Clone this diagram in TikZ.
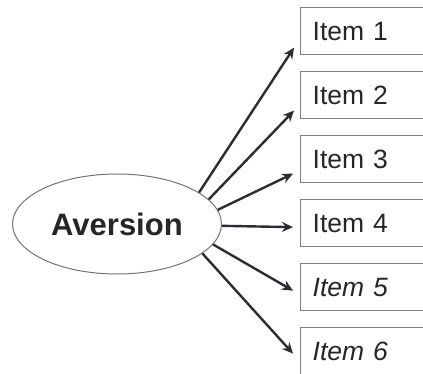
\documentclass[tikz,border=0pt]{standalone}
\usepackage{fontspec}
\setmainfont{Liberation Sans}
\usetikzlibrary{arrows.meta,shapes.geometric}
\definecolor{txt}{HTML}{262626}
\definecolor{boxline}{HTML}{808080}
\definecolor{arr}{HTML}{2C2C32}
\begin{document}
\begin{tikzpicture}[x=1pt,y=-1pt,
  itembox/.style={draw=boxline,line width=1.3pt,anchor=north west,
    minimum width=170pt,minimum height=47pt,inner xsep=12pt,
    text width=146pt,align=left,font=\fontsize{26.5}{30}\selectfont,text=txt},
  latent/.style={ellipse,draw=boxline!90!black,line width=1pt,minimum width=209pt,
    minimum height=100pt,inner sep=0pt,font=\bfseries\fontsize{31}{36}\selectfont,text=txt},
  load/.style={draw=arr,line width=2.4pt,-{Stealth[length=11pt,width=10pt]}}]
\useasboundingbox (0,0) rectangle (423,374);
\clip (0,0) rectangle (423,374);
\node[latent] (av) at (117,224) {\raisebox{-3pt}{Aversion}};
\node[itembox] (i1) at (300,7) {Item 1};
\node[itembox] (i2) at (300,71) {Item 2};
\node[itembox] (i3) at (300,135) {Item 3};
\node[itembox] (i4) at (300,199) {Item 4};
\node[itembox] (i5) at (300,263) {\itshape Item 5};
\node[itembox] (i6) at (300,327) {\itshape Item 6};
\draw[load] (av.21) -- ([shift={(-6,16.5)}]i1.west);
\draw[load] (av.15.7) -- ([shift={(-6,15.5)}]i2.west);
\draw[load] (av.8.7) -- ([shift={(-7,14.5)}]i3.west);
\draw[load] (av.-1.6) -- ([shift={(-7,4)}]i4.west);
\draw[load] (av.-12.3) -- ([shift={(-7,3.5)}]i5.west);
\draw[load] (av.-19.8) -- ([shift={(-7,2.5)}]i6.west);
\end{tikzpicture}
\end{document}
